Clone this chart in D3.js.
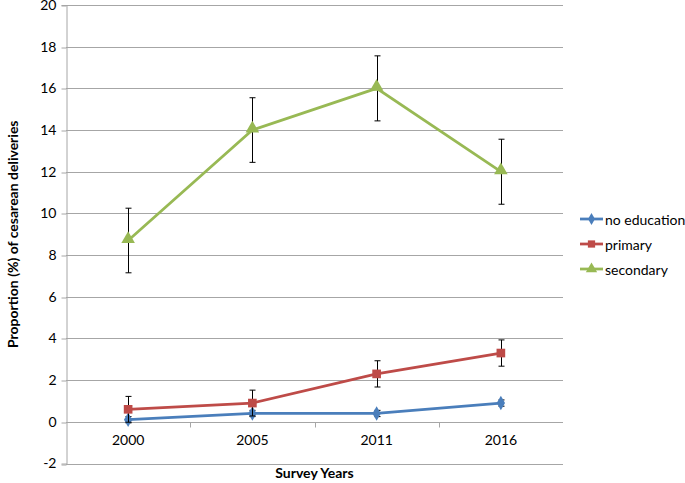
<!DOCTYPE html>
<html><head><meta charset="utf-8">
<script src="https://cdn.jsdelivr.net/npm/d3@7"></script>
<style>body{margin:0;background:#fff}svg text{font-family:Lato,"Open Sans",sans-serif}</style>
</head><body><svg id="c" width="685" height="483"></svg>
<script>
const years = ["2000","2005","2011","2016"];
const seriesNames = ["no education","primary","secondary"];
const noEducation = [0.1,0.4,0.4,0.9];
const noEducationErr = [0.15,0.15,0.15,0.15];
const primary = [0.6,0.9,2.3,3.3];
const primaryErr = [0.62,0.62,0.63,0.63];
const secondary = [8.7,14,16,12];
const secondaryErr = [1.55,1.55,1.56,1.56];
const yTicks = [-2,0,2,4,6,8,10,12,14,16,18,20];
const colors = ["#4a7ebb","#be4b48","#98b954"];

const svg = d3.select("#c");
const L=66,R=563,T=5,B=463.5;
const x = d3.scaleBand().domain(years).range([L,R]);
const y = d3.scaleLinear().domain([-2,20]).range([B,T]);
const FF = "Lato,'Open Sans',sans-serif";

// gridlines
svg.append("g").selectAll("line").data(yTicks).join("line")
  .attr("x1",L).attr("x2",R).attr("y1",d=>Math.round(y(d))+0.5).attr("y2",d=>Math.round(y(d))+0.5)
  .attr("stroke","#a6a6a6").attr("stroke-width",1);

// y axis
const ya = svg.append("g").attr("transform",`translate(${L+0.5},0)`)
  .call(d3.axisLeft(y).tickValues(yTicks).tickSize(5).tickPadding(5).tickFormat(d=>String(d)));
ya.select(".domain").attr("stroke","#a6a6a6");
ya.selectAll(".tick line").attr("stroke","#a6a6a6").attr("transform",d=>`translate(0,${Math.round(y(d))+0.5-y(d)})`);
ya.selectAll("text").attr("font-size",14).attr("fill","#000").attr("font-family",FF);

// x axis at y=0
const y0 = Math.round(y(0))+0.5;
const xa = svg.append("g").attr("transform",`translate(0,${y0})`)
  .call(d3.axisBottom(x).tickSize(0).tickPadding(13));
xa.select(".domain").remove();
xa.selectAll("text").attr("font-size",14).attr("fill","#000").attr("font-family",FF);
// category separators
svg.append("g").selectAll("line").data(years.slice(1)).join("line")
  .attr("x1",d=>Math.round(x(d))+0.5).attr("x2",d=>Math.round(x(d))+0.5)
  .attr("y1",y0).attr("y2",y0+5).attr("stroke","#a6a6a6");

// titles
svg.append("text").attr("x",(L+R)/2).attr("y",478).attr("text-anchor","middle")
  .attr("font-size",14).attr("font-weight","bold").text("Survey Years");
svg.append("text").attr("transform",`translate(12,${(T+B)/2}) rotate(-90)`).attr("text-anchor","middle")
  .attr("dominant-baseline","central").attr("font-size",14).attr("font-weight","bold")
  .text("Proportion (%) of cesarean deliveries");

const data = [noEducation,primary,secondary];
const errs = [noEducationErr,primaryErr,secondaryErr];
const cx = d=>x(d)+x.bandwidth()/2;
const line = d3.line().x((v,i)=>cx(years[i])).y(v=>y(v));
const symbols=[d3.symbolDiamond,d3.symbolSquare,d3.symbolTriangle];
const sizes=[60,75,80];

data.forEach((vals,s)=>{
  const g = svg.append("g");
  const eg = g.append("g");
  vals.forEach((v,i)=>{
    const xx=Math.round(cx(years[i]))+0.5, e=errs[s][i];
    eg.append("line").attr("x1",xx).attr("x2",xx).attr("y1",y(v+e)).attr("y2",y(v-e)).attr("stroke","#000");
    [v+e,v-e].forEach(t=>eg.append("line").attr("x1",xx-3).attr("x2",xx+3).attr("y1",y(t)).attr("y2",y(t)).attr("stroke","#000"));
  });
  g.append("path").datum(vals).attr("d",line).attr("fill","none").attr("stroke",colors[s]).attr("stroke-width",2.75);
  g.selectAll("path.m").data(vals).join("path").attr("class","m")
    .attr("transform",(v,i)=>`translate(${cx(years[i])},${y(v) + (s===2?-1.5:0)})`)
    .attr("d",d3.symbol(symbols[s],sizes[s])).attr("fill",colors[s]);
});

// legend
const lg = svg.append("g");
seriesNames.forEach((n,s)=>{
  const yy=219+25*s;
  lg.append("line").attr("x1",580).attr("x2",603).attr("y1",yy).attr("y2",yy).attr("stroke",colors[s]).attr("stroke-width",2.75);
  lg.append("path").attr("transform",`translate(591.5,${yy})`).attr("d",d3.symbol(symbols[s],sizes[s]*0.7)).attr("fill",colors[s]);
  lg.append("text").attr("x",605).attr("y",yy).attr("dominant-baseline","central").attr("font-size",14).text(n);
});
</script></body></html>
